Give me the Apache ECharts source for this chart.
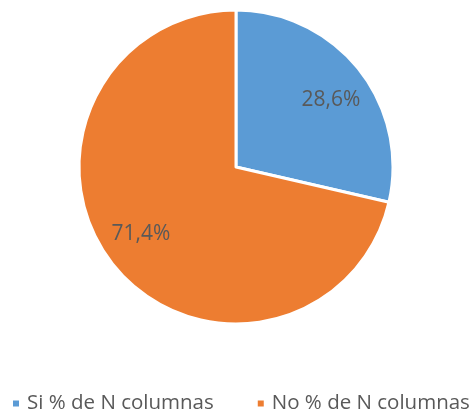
<!DOCTYPE html>
<html>
<head>
<meta charset="utf-8">
<script src="https://cdn.jsdelivr.net/npm/echarts@6/dist/echarts.min.js"></script>
<style>
  html, body { margin: 0; padding: 0; background: #fff; }
  #chart { width: 475px; height: 412px; }
</style>
</head>
<body>
<div id="chart"></div>
<script>
const categories = ['Si % de N columnas', 'No % de N columnas']
const values = [28.6, 71.4]
const colors = ['#5B9BD5', '#ED7D31']

const chart = echarts.init(document.getElementById('chart'))
const pieData = categories.map((name, i) => ({
  name: name,
  value: values[i],
  itemStyle: { color: colors[i] }
}))

chart.setOption({
  animation: false,
  legend: {
    top: 393,
    left: 11,
    width: 600,
    padding: 0,
    itemWidth: 8,
    itemHeight: 8,
    itemGap: 42,
    icon: 'rect',
    textStyle: { fontFamily: 'Open Sans', fontSize: 20.5, color: '#595959', padding: [0, 0, 0, 2] },
    data: categories
  },
  series: [
    {
      type: 'pie',
      center: [236, 167],
      radius: [0, 157],
      startAngle: 90,
      clockwise: true,
      itemStyle: { borderColor: '#fff', borderWidth: 3 },
      label: { show: false },
      labelLine: { show: false },
      data: pieData
    },
    {
      // transparent ring that only carries the data labels further out
      type: 'pie',
      center: [236, 167],
      radius: [70, 156],
      startAngle: 86.5,
      silent: true,
      legendHoverLink: false,
      itemStyle: { color: 'transparent', borderWidth: 0 },
      label: {
        show: true,
        position: 'inside',
        formatter: p => p.value.toFixed(1).replace('.', ',') + '%',
        fontFamily: 'Open Sans',
        fontSize: 21,
        color: '#595959'
      },
      labelLine: { show: false },
      data: categories.map((name, i) => ({ name: name + ' ', value: values[i] }))
    }
  ]
})
</script>
</body>
</html>
